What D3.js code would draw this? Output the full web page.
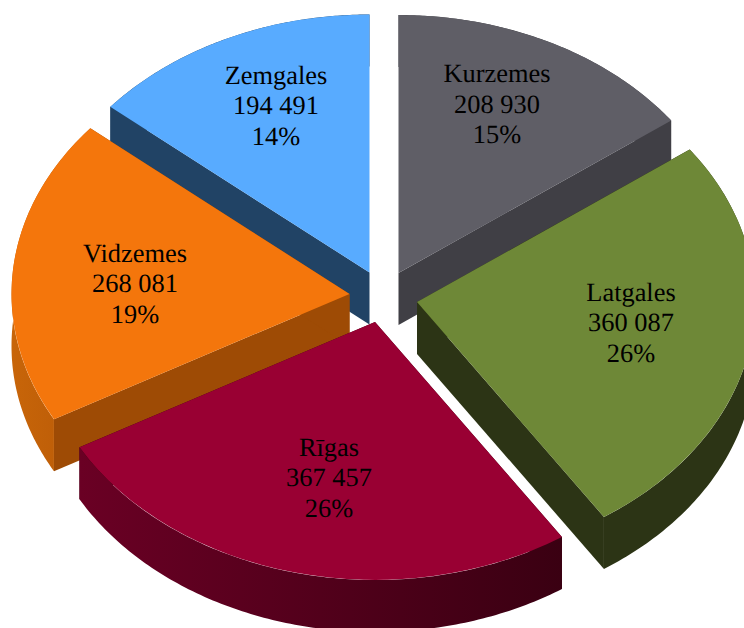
<!DOCTYPE html>
<html>
<head>
<meta charset="utf-8">
<script src="https://cdn.jsdelivr.net/npm/d3@7/dist/d3.min.js"></script>
<style>html,body{margin:0;padding:0;background:#fff}svg{display:block}</style>
</head>
<body>
<div id="chart"></div>
<script>
// Data
const categories = ["Kurzemes", "Latgales", "Rīgas", "Vidzemes", "Zemgales"];
const values = [208930, 360087, 367457, 268081, 194491];

// Styles, per category
const topColors = ["#5f5e66", "#6e8837", "#990033", "#f4760c", "#58abff"];
const faceColors = ["#403f45", "#2c3415", "#3a0012", "#9e4b05", "#214365"];
const wallLeftColors = ["#403f45", "#2c3415", "#6a0024", "#c86509", "#214365"];
const wallRightColors = ["#403f45", "#2c3415", "#3a0012", "#b85a07", "#214365"];

// Layout: exploded apex of each slice and label centre, by category
const apexes = [[398.5, 273], [417, 302], [375, 322], [349.5, 294], [369.5, 272.5]];
const labelCenters = [[497, 112.5], [631, 331], [329, 486], [135, 292], [276, 114]];
const drawOrder = [0, 4, 1, 3, 2];
const W = 744, H = 628, RX = 338, RY = 258, DEPTH = 52;
const LINE = 30.5;

const svg = d3.select("#chart").append("svg").attr("width", W).attr("height", H);
const defs = svg.append("defs");

const pie = d3.pie().sort(null).value(d => d);
const arcs = pie(values);
const arc = d3.arc().innerRadius(0).outerRadius(1);
const total = d3.sum(values);
const fmtNum = d3.formatLocale({decimal: ",", thousands: " ", grouping: [3], currency: ["", ""]}).format(",d");
const fmtPct = d3.format(".0%");
const line = d3.line();

const pt = (c, a, r, dz) => [c[0] + RX * r * Math.sin(a), c[1] - RY * r * Math.cos(a) + dz];

drawOrder.forEach(i => {
  const s = arcs[i], c = apexes[i];
  const g = svg.append("g");
  const steps = d3.range(0, 121).map(k => s.startAngle + (s.endAngle - s.startAngle) * k / 120);

  // radial side faces
  [s.startAngle, s.endAngle].forEach(a => {
    g.append("path")
      .attr("d", line([pt(c, a, 0, 0), pt(c, a, 1, 0), pt(c, a, 1, DEPTH), pt(c, a, 0, DEPTH)]) + "Z")
      .attr("fill", faceColors[i]);
  });

  // outer curved wall
  const xs = steps.map(a => pt(c, a, 1, 0)[0]);
  const gid = "wall" + i;
  const grad = defs.append("linearGradient").attr("id", gid)
    .attr("gradientUnits", "userSpaceOnUse")
    .attr("x1", d3.min(xs)).attr("x2", d3.max(xs)).attr("y1", 0).attr("y2", 0);
  grad.append("stop").attr("offset", 0).attr("stop-color", wallLeftColors[i]);
  grad.append("stop").attr("offset", 1).attr("stop-color", wallRightColors[i]);
  const wallPts = steps.map(a => pt(c, a, 1, 0)).concat(steps.slice().reverse().map(a => pt(c, a, 1, DEPTH)));
  g.append("path").attr("d", line(wallPts) + "Z").attr("fill", `url(#${gid})`);

  // top face
  g.append("path")
    .attr("transform", `translate(${c[0]},${c[1]}) scale(${RX},${RY})`)
    .attr("d", arc(s))
    .attr("fill", topColors[i]);
});

// labels
const labels = svg.append("g")
  .attr("font-family", "'Liberation Serif','Times New Roman',serif")
  .attr("font-size", 26.4)
  .attr("text-rendering", "geometricPrecision")
  .attr("fill", "#000")
  .attr("text-anchor", "middle");
categories.forEach((name, i) => {
  const [x, y] = labelCenters[i];
  const rows = [name, fmtNum(values[i]), fmtPct(values[i] / total)];
  rows.forEach((t, k) => {
    labels.append("text").attr("x", x).attr("y", y + (k - 1) * LINE).text(t);
  });
});
</script>
</body>
</html>
